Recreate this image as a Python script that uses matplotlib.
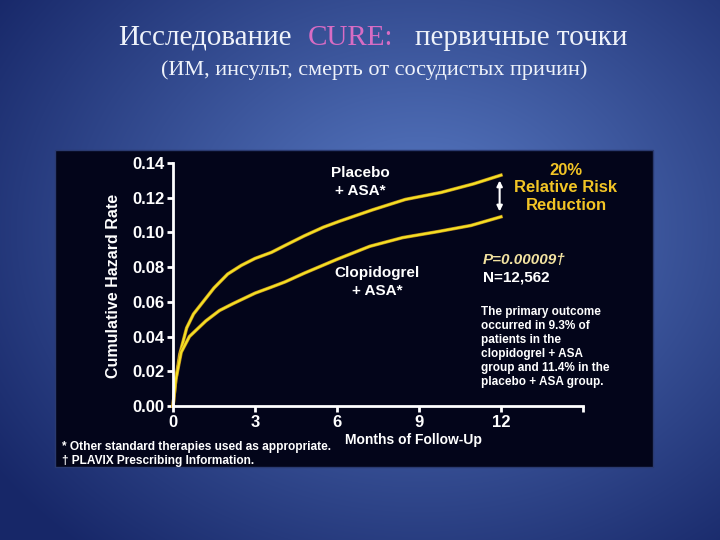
import numpy as np
import matplotlib
matplotlib.use("Agg")
import matplotlib.pyplot as plt
import matplotlib.patheffects as pe
from matplotlib.patches import Rectangle

# data (months, cumulative hazard rate)
placebo_months = [0, 0.1, 0.25, 0.5, 0.75, 1.0, 1.5, 2.0, 2.5, 3.0, 3.6, 4.1, 4.8, 5.5, 6.1, 7.3, 8.5, 9.8, 11.0, 12.0]
placebo_rate = [0, 0.015, 0.030, 0.045, 0.053, 0.058, 0.068, 0.076, 0.081, 0.085, 0.0885, 0.0925, 0.098, 0.103, 0.1065, 0.113, 0.119, 0.123, 0.128, 0.133]
clopi_months = [0, 0.1, 0.3, 0.6, 0.8, 1.2, 1.7, 2.2, 3.0, 3.6, 4.1, 4.8, 6.0, 7.2, 8.4, 9.7, 10.9, 12.0]
clopi_rate = [0, 0.015, 0.031, 0.040, 0.043, 0.049, 0.055, 0.059, 0.065, 0.0685, 0.0715, 0.0765, 0.0845, 0.092, 0.097, 0.1005, 0.104, 0.109]
x_ticks = [0, 3, 6, 9, 12]
y_ticks = [0.00, 0.02, 0.04, 0.06, 0.08, 0.10, 0.12, 0.14]

W, H = 720, 540
fig = plt.figure(figsize=(7.2, 5.4), dpi=100)

# blue radial background
bg = fig.add_axes([0, 0, 1, 1])
yy, xx = np.mgrid[0:H, 0:W]
d = np.sqrt(((xx - 420) / 520.0) ** 2 + ((yy - 230) / 420.0) ** 2)
d = np.clip(d, 0, 1)
c_in = np.array([0x5a, 0x7c, 0xc6]) / 255.0
c_out = np.array([0x17, 0x27, 0x68]) / 255.0
img = c_in[None, None, :] * (1 - d[..., None]) + c_out[None, None, :] * d[..., None]
bg.imshow(img, extent=[0, W, H, 0], aspect="auto")
bg.set_xlim(0, W)
bg.set_ylim(H, 0)
bg.axis("off")

# black panel
fig.patches.append(Rectangle((55 / W, 1 - 467 / H), 598 / W, 317 / H, transform=fig.transFigure,
                             facecolor="#03051a", edgecolor="#2a3a70", lw=1, zorder=1))

# titles
serif = "Liberation Serif"
tc = "#eef2fa"
fig.text(292 / W, 1 - 38 / H, "Исследование", fontsize=21, family=serif, color=tc, ha="right", va="center")
fig.text(308 / W, 1 - 38 / H, "CURE:", fontsize=21, family=serif, color="#d86cc4", ha="left", va="center")
fig.text(415 / W, 1 - 38 / H, "первичные точки", fontsize=21, family=serif, color=tc, ha="left", va="center")
fig.text(374 / W, 1 - 70 / H, "(ИМ, инсульт, смерть от сосудистых причин)", fontsize=16, family=serif,
         color=tc, ha="center", va="center")

sans = "Liberation Sans"
ax = fig.add_axes([173 / W, 1 - 406 / H, 410 / W, 243 / H])
ax.set_facecolor("none")
ax.set_zorder(2)

yellow = "#f4df24"
for m, r in [(placebo_months, placebo_rate), (clopi_months, clopi_rate)]:
    ax.plot(m, r, color=yellow, lw=1.6, clip_on=False, solid_joinstyle="round",
            path_effects=[pe.Stroke(linewidth=2.5, foreground="#b98a1c"), pe.Normal()])

ax.set_xlim(0, 15)
ax.set_ylim(0, 0.14)
for s in ["top", "right"]:
    ax.spines[s].set_visible(False)
for s in ["left", "bottom"]:
    ax.spines[s].set_color("white")
    ax.spines[s].set_linewidth(2)
ax.set_xticks(x_ticks + [15])
ax.set_xticklabels([str(t) for t in x_ticks] + [""])
ax.set_yticks(y_ticks)
ax.set_yticklabels(["%.2f" % t for t in y_ticks])
ax.tick_params(colors="white", width=2, length=4, direction="out")
ax.tick_params(axis="x", pad=2.5)
ax.tick_params(axis="y", pad=2)
for lab in ax.get_xticklabels() + ax.get_yticklabels():
    lab.set_fontfamily(sans)
    lab.set_fontweight("bold")
    lab.set_fontsize(12)
    lab.set_color("white")

ax.annotate("", xy=(11.95, placebo_rate[-1] - 0.0015), xytext=(11.95, clopi_rate[-1] + 0.0015),
            arrowprops=dict(arrowstyle="<|-|>", color="white", lw=1.5, mutation_scale=8))

def ftext(x, y, s, **kw):
    opts = dict(family=sans, fontweight="bold", color="white", va="center")
    opts.update(kw)
    fig.text(x / W, 1 - y / H, s, zorder=5, **opts)

ftext(113, 286, "Cumulative Hazard Rate", fontsize=11.5, rotation=90, ha="center")
ftext(360, 182, "Placebo\n+ ASA*", fontsize=11, ha="center", linespacing=1.45)
ftext(377, 282, "Clopidogrel\n+ ASA*", fontsize=11, ha="center", linespacing=1.35)
ftext(566, 188, "20%\nRelative Risk\nReduction", fontsize=12, ha="center", color="#f2c425", linespacing=1.2)
ftext(483, 260, "P=0.00009\u2020", fontsize=11, ha="left", color="#f2e2a0", style="italic")
ftext(483, 278, "N=12,562", fontsize=11, ha="left")
ftext(481, 347, "The primary outcome\noccurred in 9.3% of\npatients in the\nclopidogrel + ASA\ngroup and 11.4% in the\nplacebo + ASA group.",
      fontsize=8.5, ha="left", linespacing=1.24)
ftext(413, 440, "Months of Follow-Up", fontsize=10, ha="center")
ftext(62, 447, "* Other standard therapies used as appropriate.", fontsize=8.6, ha="left")
ftext(62, 461, "\u2020 PLAVIX Prescribing Information.", fontsize=8.6, ha="left")

fig.savefig("out.png", dpi=100)
